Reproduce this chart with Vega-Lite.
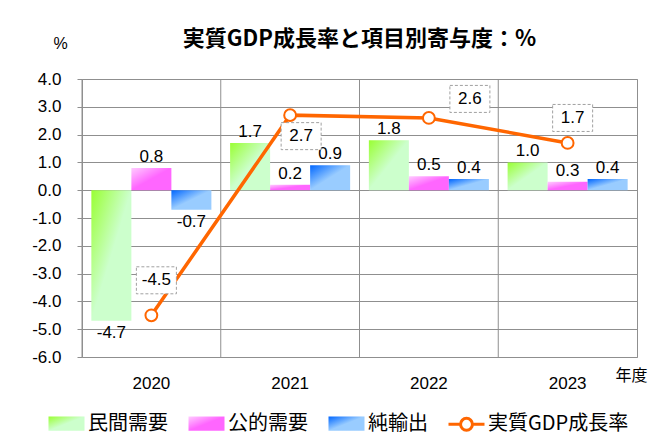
{
  "$schema": "https://vega.github.io/schema/vega-lite/v6.json",
  "width": 555,
  "height": 278,
  "autosize": "none",
  "padding": {"left": 82, "top": 79, "right": 13, "bottom": 82},
  "background": "white",
  "title": {"text": "実質GDP成長率と項目別寄与度：%", "font": "Noto Sans CJK JP", "fontSize": 22, "fontWeight": "bold", "color": "#000000", "anchor": "middle", "offset": -16},
  "config": {
    "locale": {"number": {"decimal": ".", "thousands": ",", "grouping": [3], "currency": ["", ""], "minus": "-"}},
    "view": {"stroke": "#8f8f8f", "strokeWidth": 1},
    "axis": {"gridColor": "#8f8f8f", "gridOpacity": 1, "tickColor": "#8f8f8f", "labelColor": "#000000", "titleColor": "#000000"}
  },
  "datasets": {
    "bars": [
      {"year": "2020", "series": "民間需要", "value": -4.7},
      {"year": "2020", "series": "公的需要", "value": 0.8},
      {"year": "2020", "series": "純輸出", "value": -0.7},
      {"year": "2021", "series": "民間需要", "value": 1.7},
      {"year": "2021", "series": "公的需要", "value": 0.2},
      {"year": "2021", "series": "純輸出", "value": 0.9},
      {"year": "2022", "series": "民間需要", "value": 1.8},
      {"year": "2022", "series": "公的需要", "value": 0.5},
      {"year": "2022", "series": "純輸出", "value": 0.4},
      {"year": "2023", "series": "民間需要", "value": 1.0},
      {"year": "2023", "series": "公的需要", "value": 0.3},
      {"year": "2023", "series": "純輸出", "value": 0.4}
    ],
    "gdp": [
      {"year": "2020", "series": "実質GDP成長率", "value": -4.5},
      {"year": "2021", "series": "実質GDP成長率", "value": 2.7},
      {"year": "2022", "series": "実質GDP成長率", "value": 2.6},
      {"year": "2023", "series": "実質GDP成長率", "value": 1.7}
    ]
  },
  "encoding": {
    "x": {
      "field": "year", "type": "nominal",
      "scale": {"paddingInner": 0, "paddingOuter": 0},
      "axis": {
        "title": "年度", "titleX": 533, "titleY": 18, "titleAlign": "left", "titleBaseline": "middle",
        "titleFont": "Noto Sans CJK JP", "titleFontSize": 16, "titleFontWeight": "normal",
        "labelAngle": 0, "labelFont": "Liberation Sans", "labelFontSize": 17, "labelPadding": 18,
        "ticks": false, "domain": false, "grid": false
      }
    },
    "y": {
      "field": "value", "type": "quantitative",
      "scale": {"domain": [-6, 4], "nice": false, "zero": false},
      "axis": {
        "values": [-6, -5, -4, -3, -2, -1, 0, 1, 2, 3, 4], "tickCount": 20, "format": ".1f", "labelOverlap": false,
        "title": "%", "titleAngle": 0, "titleX": -22, "titleY": -36, "titleAlign": "center", "titleBaseline": "middle",
        "titleFont": "Liberation Sans", "titleFontSize": 16, "titleFontWeight": "normal",
        "labelFont": "Liberation Sans", "labelFontSize": 17, "labelPadding": 16, "tickSize": 5, "domain": false, "grid": true
      }
    }
  },
  "layer": [
    {
      "data": {"name": "gdp"},
      "mark": {"type": "rule", "color": "#8f8f8f", "strokeWidth": 1},
      "encoding": {
        "x": {"field": "year", "type": "nominal", "bandPosition": 0},
        "y": {"datum": -6, "type": "quantitative"},
        "y2": {"datum": 4}
      }
    },
    {
      "data": {"name": "bars"},
      "transform": [{"filter": "datum.series === '民間需要'"}],
      "mark": {"type": "bar", "fill": {"gradient": "linear", "x1": 0, "y1": 0, "x2": 1, "y2": 1, "stops": [{"offset": 0, "color": "#99ff33"}, {"offset": 0.5, "color": "#ccffcc"}, {"offset": 1, "color": "#ccffcc"}]}},
      "encoding": {
        "xOffset": {"field": "series", "type": "nominal", "scale": {"domain": ["民間需要", "公的需要", "純輸出"], "paddingInner": 0, "paddingOuter": 0.234}}
      }
    },
    {
      "data": {"name": "bars"},
      "transform": [{"filter": "datum.series === '公的需要'"}],
      "mark": {"type": "bar", "fill": {"gradient": "linear", "x1": 0, "y1": 0, "x2": 1, "y2": 1, "stops": [{"offset": 0, "color": "#ffccff"}, {"offset": 0.5, "color": "#ff66ff"}, {"offset": 1, "color": "#ff66ff"}]}},
      "encoding": {
        "xOffset": {"field": "series", "type": "nominal"}
      }
    },
    {
      "data": {"name": "bars"},
      "transform": [{"filter": "datum.series === '純輸出'"}],
      "mark": {"type": "bar", "fill": {"gradient": "linear", "x1": 0, "y1": 0, "x2": 1, "y2": 1, "stops": [{"offset": 0, "color": "#0066ff"}, {"offset": 0.5, "color": "#99ccff"}, {"offset": 1, "color": "#99ccff"}]}},
      "encoding": {
        "xOffset": {"field": "series", "type": "nominal"}
      }
    },
    {
      "data": {"name": "bars"},
      "transform": [{"filter": "datum.value >= 0"}],
      "mark": {"type": "text", "dy": -11, "font": "Liberation Sans", "fontSize": 17, "color": "#000000"},
      "encoding": {
        "xOffset": {"field": "series", "type": "nominal"},
        "text": {"field": "value", "type": "quantitative", "format": ".1f"}
      }
    },
    {
      "data": {"name": "bars"},
      "transform": [{"filter": "datum.value < 0"}],
      "mark": {"type": "text", "dy": 12, "font": "Liberation Sans", "fontSize": 17, "color": "#000000"},
      "encoding": {
        "xOffset": {"field": "series", "type": "nominal"},
        "text": {"field": "value", "type": "quantitative", "format": ".1f"}
      }
    },
    {
      "data": {"name": "gdp"},
      "mark": {"type": "line", "strokeWidth": 3.5, "color": "#ff6600"},
      "encoding": {}
    },
    {
      "data": {"name": "gdp"},
      "mark": {"type": "point", "opacity": 0},
      "encoding": {
        "shape": {
          "field": "series", "type": "nominal",
          "scale": {"domain": ["民間需要", "公的需要", "純輸出", "実質GDP成長率"], "range": ["M-1,-0.4H1V0.4H-1Z", "M-1,-0.4H1V0.4H-1Z", "M-1,-0.4H1V0.4H-1Z", "M-1,0H-0.33M0.33,0H1M0.33,0A0.33,0.33,0,1,1,-0.33,0A0.33,0.33,0,1,1,0.33,0Z"]},
          "legend": {
            "orient": "none", "legendX": -35, "legendY": 325, "direction": "horizontal", "title": null,
            "labelFont": "Noto Sans CJK JP", "labelFontSize": 20, "labelColor": "#000000", "labelOffset": 2,
            "columnPadding": 14, "symbolSize": 1296, "symbolOpacity": 1, "symbolStrokeWidth": 3
          }
        },
        "fill": {
          "field": "series", "type": "nominal",
          "scale": {
            "domain": ["民間需要", "公的需要", "純輸出", "実質GDP成長率"],
            "range": [
              {"expr": "{gradient: 'linear', x1: 0, y1: 0, x2: 1, y2: 1, stops: [{offset: 0, color: '#99ff33'}, {offset: 0.5, color: '#ccffcc'}, {offset: 1, color: '#ccffcc'}]}"},
              {"expr": "{gradient: 'linear', x1: 0, y1: 0, x2: 1, y2: 1, stops: [{offset: 0, color: '#ffccff'}, {offset: 0.5, color: '#ff66ff'}, {offset: 1, color: '#ff66ff'}]}"},
              {"expr": "{gradient: 'linear', x1: 0, y1: 0, x2: 1, y2: 1, stops: [{offset: 0, color: '#0066ff'}, {offset: 0.5, color: '#99ccff'}, {offset: 1, color: '#99ccff'}]}"},
              "#ffffff"
            ]
          }
        },
        "stroke": {
          "field": "series", "type": "nominal",
          "scale": {"domain": ["民間需要", "公的需要", "純輸出", "実質GDP成長率"], "range": ["transparent", "transparent", "transparent", "#ff6600"]}
        }
      }
    },
    {
      "data": {"name": "gdp"},
      "mark": {"type": "point", "shape": "circle", "filled": true, "fill": "#ffffff", "stroke": "#ff6600", "strokeWidth": 2, "size": 140, "opacity": 1},
      "encoding": {}
    },
    {
      "data": {"name": "gdp"},
      "transform": [{"filter": "datum.year === '2020'"}],
      "mark": {"type": "point", "filled": true, "fill": "#ffffff", "stroke": "#a0a0a0", "strokeWidth": 1, "strokeDash": [3, 2], "shape": "M-1,-0.675H1V0.675H-1Z", "size": 1600, "opacity": 1, "xOffset": 5, "yOffset": -35},
      "encoding": {}
    },
    {
      "data": {"name": "gdp"},
      "transform": [{"filter": "datum.year === '2020'"}],
      "mark": {"type": "text", "dx": 5, "dy": -35, "font": "Liberation Sans", "fontSize": 17, "color": "#000000"},
      "encoding": {"text": {"field": "value", "type": "quantitative", "format": ".1f"}}
    },
    {
      "data": {"name": "gdp"},
      "transform": [{"filter": "datum.year === '2021'"}],
      "mark": {"type": "point", "filled": true, "fill": "#ffffff", "stroke": "#a0a0a0", "strokeWidth": 1, "strokeDash": [3, 2], "shape": "M-1,-0.675H1V0.675H-1Z", "size": 1600, "opacity": 1, "xOffset": 11, "yOffset": 21},
      "encoding": {}
    },
    {
      "data": {"name": "gdp"},
      "transform": [{"filter": "datum.year === '2021'"}],
      "mark": {"type": "text", "dx": 11, "dy": 21, "font": "Liberation Sans", "fontSize": 17, "color": "#000000"},
      "encoding": {"text": {"field": "value", "type": "quantitative", "format": ".1f"}}
    },
    {
      "data": {"name": "gdp"},
      "transform": [{"filter": "datum.year === '2022'"}],
      "mark": {"type": "point", "filled": true, "fill": "#ffffff", "stroke": "#a0a0a0", "strokeWidth": 1, "strokeDash": [3, 2], "shape": "M-1,-0.675H1V0.675H-1Z", "size": 1600, "opacity": 1, "xOffset": 41, "yOffset": -19},
      "encoding": {}
    },
    {
      "data": {"name": "gdp"},
      "transform": [{"filter": "datum.year === '2022'"}],
      "mark": {"type": "text", "dx": 41, "dy": -19, "font": "Liberation Sans", "fontSize": 17, "color": "#000000"},
      "encoding": {"text": {"field": "value", "type": "quantitative", "format": ".1f"}}
    },
    {
      "data": {"name": "gdp"},
      "transform": [{"filter": "datum.year === '2023'"}],
      "mark": {"type": "point", "filled": true, "fill": "#ffffff", "stroke": "#a0a0a0", "strokeWidth": 1, "strokeDash": [3, 2], "shape": "M-1,-0.675H1V0.675H-1Z", "size": 1600, "opacity": 1, "xOffset": 5, "yOffset": -25},
      "encoding": {}
    },
    {
      "data": {"name": "gdp"},
      "transform": [{"filter": "datum.year === '2023'"}],
      "mark": {"type": "text", "dx": 5, "dy": -25, "font": "Liberation Sans", "fontSize": 17, "color": "#000000"},
      "encoding": {"text": {"field": "value", "type": "quantitative", "format": ".1f"}}
    }
  ]
}
